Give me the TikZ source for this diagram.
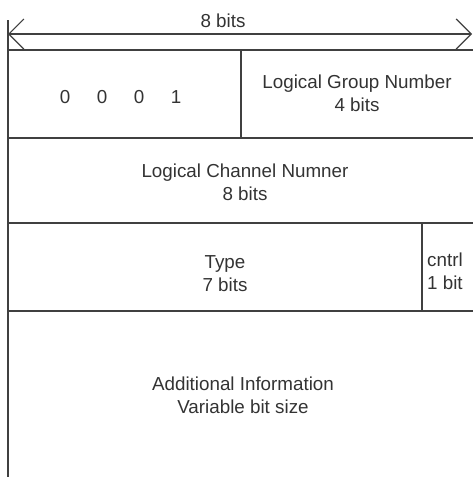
\documentclass[tikz,border=0pt]{standalone}
\usepackage{fontspec}
\setmainfont{Liberation Sans}
\usetikzlibrary{arrows.meta}

\begin{document}
\begin{tikzpicture}[x=1pt,y=-1pt]
	\tikzstyle{field}=[align=center,text=black!80,font=\fontsize{18.8}{23}\selectfont,inner sep=0pt]
	\tikzstyle{rule}=[draw=black!75,line width=1.2pt]
	\tikzstyle{barb}=[{Straight Barb[length=15pt,width=30pt]}-{Straight Barb[length=15pt,width=30pt]}]

	\useasboundingbox (0,0) rectangle (473,477);

	\coordinate (wl) at (8,34);
	\coordinate (wr) at (472,34);

	% frame and rows
	\draw[rule] (8,20) -- (8,477);
	\draw[rule] (8,50) -- (473,50);
	\draw[rule] (8,138) -- (473,138);
	\draw[rule] (8,223) -- (473,223);
	\draw[rule] (8,311) -- (473,311);
	\draw[rule] (241,50) -- (241,138);
	\draw[rule] (422,223) -- (422,311);

	\draw[rule,barb] (wl) -- (wr);
	\node[field] (width) at (223,21) {8 bits};

	\foreach \b [count=\i] in {0,0,0,1}
		\node[field] (bit\i) at (28+37*\i,97) {\b};

	\node[field] (group) at (357,93.5) {Logical Group Number\\4 bits};
	\node[field] (channel) at (245,182) {Logical Channel Numner\\8 bits};
	\node[field] (type) at (225,273.5) {Type\\7 bits};
	\node[field,align=left,anchor=west] (cntrl) at (427,271) {cntrl\\1 bit};
	\node[field] (info) at (243,395.5) {Additional Information\\Variable bit size};
\end{tikzpicture}
\end{document}
